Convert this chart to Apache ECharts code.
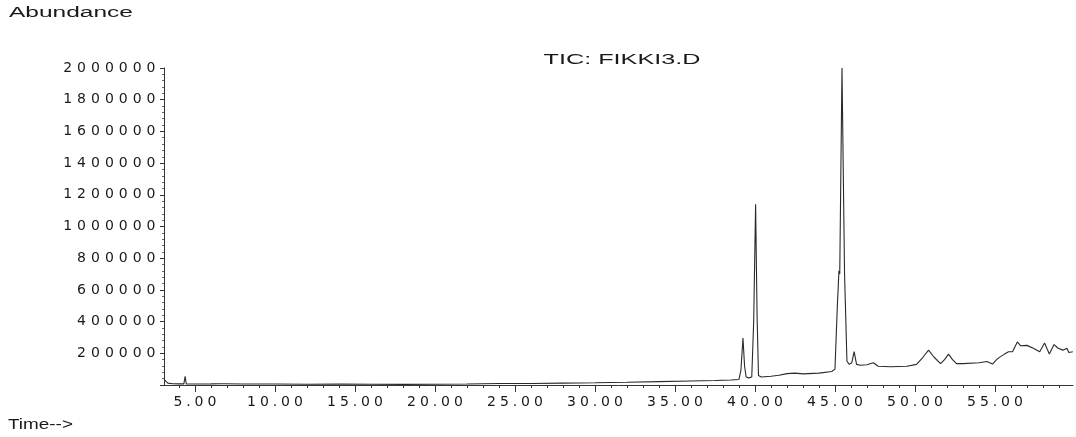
<!DOCTYPE html>
<html>
<head>
<meta charset="utf-8">
<script src="https://cdn.jsdelivr.net/npm/echarts@6/dist/echarts.min.js"></script>
<style>
html,body{margin:0;padding:0;background:#fff;}
#chart{width:1076px;height:437px;}
</style>
</head>
<body>
<div id="chart"></div>
<script>
// Retention time (min)
const times = [3.06,3.3,3.6,4.0,4.3,4.38,4.45,5.0,6.0,6.6,6.7,6.8,8.0,10.0,12.0,14.0,16.0,18.0,20.0,22.0,24.0,26.0,28.0,30.0,32.0,34.0,36.0,37.5,38.5,39.0,39.12,39.25,39.35,39.45,39.6,39.8,39.92,40.04,40.13,40.22,40.4,41.0,41.5,42.0,42.5,43.0,44.0,44.8,45.0,45.15,45.25,45.3,45.44,45.6,45.75,45.9,46.05,46.2,46.35,46.6,47.0,47.4,47.7,48.5,49.5,50.1,50.5,50.85,51.2,51.6,51.85,52.1,52.35,52.6,53.0,54.0,54.5,54.85,55.1,55.3,55.6,55.85,56.1,56.4,56.6,57.0,57.4,57.8,58.1,58.4,58.7,58.95,59.25,59.5,59.62,59.87];
// Abundance (TIC)
const abundance = [35000,12000,8000,7000,7000,55000,7000,6000,7000,8000,16000,8000,6000,6000,5000,6000,5000,4000,5000,6000,9000,9000,12000,14000,17000,21000,25000,28000,32000,35000,90000,296000,120000,50000,45000,50000,400000,1140000,450000,60000,50000,55000,62000,72000,75000,70000,75000,85000,100000,500000,720000,700000,2000000,700000,150000,130000,140000,210000,130000,125000,128000,140000,118000,115000,118000,130000,175000,220000,175000,135000,160000,195000,160000,135000,135000,140000,148000,132000,160000,176000,195000,210000,210000,272000,248000,250000,232000,210000,265000,196000,255000,232000,220000,232000,205000,210000];
// Axis ticks / labels
const xMajorTicks = [5,10,15,20,25,30,35,40,45,50,55];
const xMinorTicks = [4,5,6,7,8,9,10,11,12,13,14,15,16,17,18,19,20,21,22,23,24,25,26,27,28,29,30,31,32,33,34,35,36,37,38,39,40,41,42,43,44,45,46,47,48,49,50,51,52,53,54,55,56,57,58,59];
const yTicks = [200000,400000,600000,800000,1000000,1200000,1400000,1600000,1800000,2000000];
const titleText = 'TIC: FIKKI3.D';
const yName = 'Abundance';
const xName = 'Time-->';

const FONT = 'Liberation Sans';
const TICKFONT = 'DejaVu Sans';
const INK = '#1a1a1a';

function spaced(s) {
  return s.split('').map(c => c === '.' ? '{p|.}' : '{d|' + c + '}').join('');
}
function richSet(dw, pw) {
  return {
    d: {width: dw, align: 'center', fontSize: 14, fontFamily: TICKFONT, color: INK},
    p: {width: pw, align: 'center', fontSize: 14, fontFamily: TICKFONT, color: INK}
  };
}

const chart = echarts.init(document.getElementById('chart'), null, {renderer: 'canvas'});
const data = times.map((t, i) => [t, abundance[i]]);

chart.setOption({
  animation: false,
  backgroundColor: '#ffffff',
  grid: {left: 164, right: 3, top: 68, bottom: 52, containLabel: false},
  xAxis: [
    {
      type: 'value', min: 3.06, max: 59.88, position: 'bottom',
      axisLine: {show: true, lineStyle: {color: '#333', width: 1}},
      axisTick: {show: true, length: 3, lineStyle: {color: '#333'}, customValues: xMinorTicks},
      axisLabel: {show: false},
      splitLine: {show: false}
    },
    {
      type: 'value', min: 3.06, max: 59.88, position: 'bottom',
      axisLine: {show: false},
      axisTick: {show: true, length: 7, lineStyle: {color: '#333'}, customValues: xMajorTicks},
      axisLabel: {
        show: true, margin: 10, customValues: xMajorTicks,
        formatter: v => spaced(v.toFixed(2)),
        rich: richSet(13, 8)
      },
      splitLine: {show: false}
    }
  ],
  yAxis: {
    type: 'value', min: 0, max: 2000000, interval: 200000,
    axisLine: {show: true, lineStyle: {color: '#333', width: 1}},
    axisTick: {show: true, length: 4, lineStyle: {color: '#333'}},
    minorTick: {show: true, splitNumber: 5, length: 2, lineStyle: {color: '#666'}},
    axisLabel: {
      margin: 6,
      formatter: v => (yTicks.indexOf(v) >= 0 ? spaced(String(v)) : ''),
      rich: richSet(13.9, 8)
    },
    splitLine: {show: false}
  },
  graphic: [
    {type: 'text', x: 9, y: 13, scaleX: 1.75, style: {text: yName, fontSize: 14, fontFamily: FONT, fill: INK, textVerticalAlign: 'middle'}},
    {type: 'text', x: 622, y: 60, scaleX: 1.8, style: {text: titleText, fontSize: 14, fontFamily: FONT, fill: INK, textAlign: 'center', textVerticalAlign: 'middle'}},
    {type: 'text', x: 8, y: 425, scaleX: 1.35, style: {text: xName, fontSize: 14, fontFamily: FONT, fill: INK, textVerticalAlign: 'middle'}}
  ],
  series: [{
    type: 'line', xAxisIndex: 0, data: data, showSymbol: false, symbol: 'none',
    lineStyle: {color: '#2a2a2a', width: 1.1}, clip: false
  }]
});
</script>
</body>
</html>
